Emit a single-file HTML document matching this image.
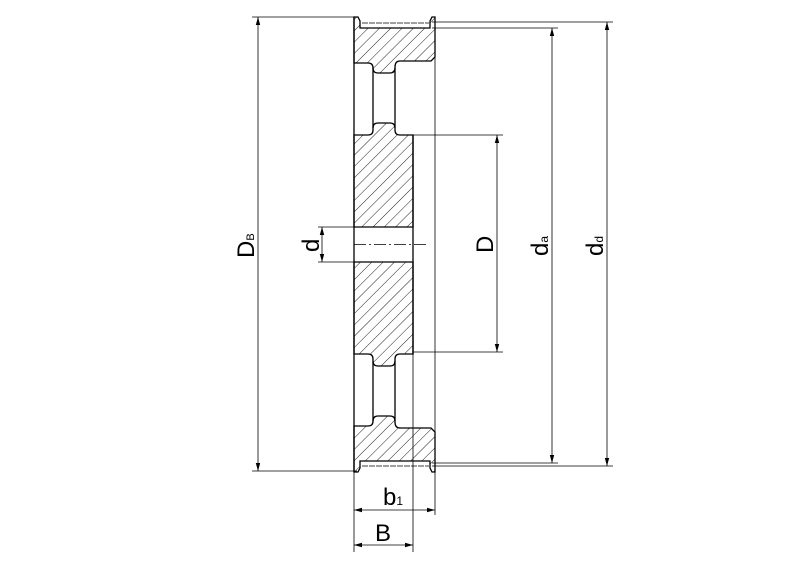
<!DOCTYPE html>
<html><head><style>html,body{margin:0;padding:0;background:#fff}svg{display:block}</style></head>
<body>
<svg width="800" height="565" viewBox="0 0 800 565" xmlns="http://www.w3.org/2000/svg" font-family="Liberation Sans, sans-serif">
<defs>
<pattern id="h" width="8" height="8" patternUnits="userSpaceOnUse" patternTransform="rotate(45)">
<line x1="0" y1="0" x2="0" y2="8" stroke="#222" stroke-width="1"/>
</pattern>
<marker id="a" markerWidth="8" markerHeight="6" refX="8" refY="3" orient="auto" markerUnits="userSpaceOnUse">
<path d="M0,0.8 L8,3 L0,5.2 Z" fill="#000"/>
</marker>
</defs>
<g stroke="#000" stroke-width="1.3" fill="none">
<path d="M354,17 L358,17 L360,21 L360,28 L430,28 L430,21 L432,17 L435,17 L435,57 L431,61 L400,61 Q395,61 395,67 L395,68 Q395,73 390,73 L378,73 Q373,73 373,68 L373,68 Q373,63 368,63 L354,63 Z" fill="url(#h)"/>
<path d="M354,472 L358,472 L360,468 L360,461 L430,461 L430,468 L432,472 L435,472 L435,432 L431,428 L400,428 Q395,428 395,422 L395,421 Q395,416 390,416 L378,416 Q373,416 373,421 L373,421 Q373,426 368,426 L354,426 Z" fill="url(#h)"/>
<path d="M354,135 L368,135 Q373,135 373,130 L373,128 Q373,123 378,123 L390,123 Q395,123 395,128 L395,130 Q395,135 400,135 L413,135 L413,227 L354,227 Z" fill="url(#h)"/>
<path d="M354,354 L368,354 Q373,354 373,359 L373,361 Q373,366 378,366 L390,366 Q395,366 395,361 L395,359 Q395,354 400,354 L413,354 L413,262 L354,262 Z" fill="url(#h)"/>
<line x1="354" y1="17" x2="354" y2="472"/>
<line x1="373" y1="68" x2="373" y2="128"/>
<line x1="395" y1="68" x2="395" y2="128"/>
<line x1="373" y1="361" x2="373" y2="421"/>
<line x1="395" y1="361" x2="395" y2="421"/>
<line x1="413" y1="135" x2="413" y2="354"/>
</g>
<g stroke="#000" stroke-width="0.8" fill="none">
<line x1="435" y1="17" x2="435" y2="515"/>
<line x1="362" y1="23" x2="429" y2="23" stroke-dasharray="6,1"/>
<line x1="362" y1="466" x2="429" y2="466" stroke-dasharray="6,1"/>
<line x1="354" y1="244.5" x2="428" y2="244.5" stroke-dasharray="12,3,2,3"/>
<line x1="252" y1="17" x2="357" y2="17"/>
<line x1="252" y1="471" x2="357" y2="471"/>
<line x1="318" y1="227" x2="354" y2="227"/>
<line x1="318" y1="262" x2="354" y2="262"/>
<line x1="413" y1="135" x2="503" y2="135"/>
<line x1="413" y1="352" x2="503" y2="352"/>
<line x1="432" y1="28" x2="558" y2="28"/>
<line x1="432" y1="463" x2="558" y2="463"/>
<line x1="432" y1="22" x2="613" y2="22"/>
<line x1="432" y1="466" x2="613" y2="466"/>
<line x1="354" y1="472" x2="354" y2="552"/>
<line x1="413" y1="354" x2="413" y2="552"/>
<line x1="258" y1="244" x2="258" y2="17" marker-end="url(#a)"/>
<line x1="258" y1="244" x2="258" y2="471" marker-end="url(#a)"/>
<line x1="322" y1="244" x2="322" y2="227" marker-end="url(#a)"/>
<line x1="322" y1="244" x2="322" y2="262" marker-end="url(#a)"/>
<line x1="497" y1="244" x2="497" y2="135" marker-end="url(#a)"/>
<line x1="497" y1="244" x2="497" y2="352" marker-end="url(#a)"/>
<line x1="552" y1="244" x2="552" y2="28" marker-end="url(#a)"/>
<line x1="552" y1="244" x2="552" y2="463" marker-end="url(#a)"/>
<line x1="607" y1="244" x2="607" y2="22" marker-end="url(#a)"/>
<line x1="607" y1="244" x2="607" y2="466" marker-end="url(#a)"/>
<line x1="395" y1="510" x2="354" y2="510" marker-end="url(#a)"/>
<line x1="395" y1="510" x2="435" y2="510" marker-end="url(#a)"/>
<line x1="384" y1="545" x2="354" y2="545" marker-end="url(#a)"/>
<line x1="384" y1="545" x2="413" y2="545" marker-end="url(#a)"/>
</g>
<g fill="#000" font-size="24">
<text transform="translate(254,258) rotate(-90)">D<tspan font-size="11">B</tspan></text>
<text transform="translate(319,252) rotate(-90)">d</text>
<text transform="translate(493,253) rotate(-90)">D</text>
<text transform="translate(548,256) rotate(-90)">d<tspan font-size="12">a</tspan></text>
<text transform="translate(603,256) rotate(-90)">d<tspan font-size="12">d</tspan></text>
<text x="383" y="505">b<tspan font-size="12">1</tspan></text>
<text x="375" y="541">B</text>
</g>
</svg>
</body></html>
